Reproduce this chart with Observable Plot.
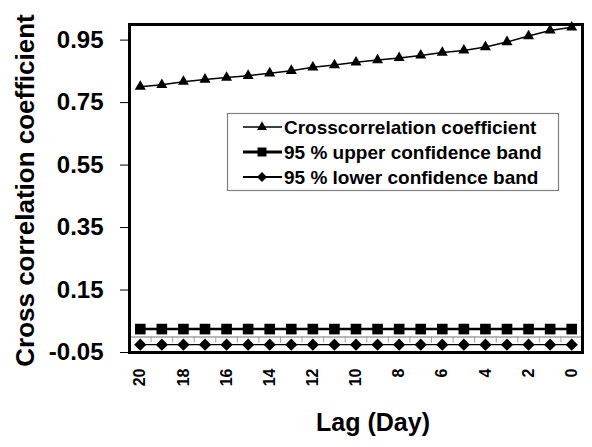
<!DOCTYPE html>
<html>
<head>
<meta charset="utf-8">
<script src="https://cdn.jsdelivr.net/npm/d3@7"></script>
<script src="https://cdn.jsdelivr.net/npm/@observablehq/plot@0.6"></script>
<style>
  html, body { margin: 0; padding: 0; background: white; }
  #wrap { position: relative; width: 592px; height: 447px; }
  #wrap svg text { font-weight: bold; }
</style>
</head>
<body>
<div id="wrap"></div>
<script>
const lags = [20, 19, 18, 17, 16, 15, 14, 13, 12, 11, 10, 9, 8, 7, 6, 5, 4, 3, 2, 1, 0];
const ccValues = [0.801, 0.807, 0.817, 0.824, 0.830, 0.836, 0.844, 0.852, 0.863, 0.870, 0.879,
                  0.886, 0.893, 0.901, 0.910, 0.917, 0.928, 0.944, 0.963, 0.981, 0.991];
const upperBand = [0.025, 0.025, 0.025, 0.025, 0.025, 0.025, 0.025, 0.025, 0.025, 0.025, 0.025,
                   0.025, 0.025, 0.025, 0.025, 0.025, 0.025, 0.025, 0.025, 0.025, 0.025];
const lowerBand = [-0.025, -0.025, -0.025, -0.025, -0.025, -0.025, -0.025, -0.025, -0.025, -0.025, -0.025,
                   -0.025, -0.025, -0.025, -0.025, -0.025, -0.025, -0.025, -0.025, -0.025, -0.025];
const xTickLabels = [20, 18, 16, 14, 12, 10, 8, 6, 4, 2, 0];
const yTickLabels = [0.95, 0.75, 0.55, 0.35, 0.15, -0.05];
const seriesNames = ["Crosscorrelation coefficient", "95 % upper confidence band", "95 % lower confidence band"];
const xTitle = "Lag (Day)";
const yTitle = "Cross correlation coefficient";

const rows = lags.map((lag, i) => ({lag, cc: ccValues[i], upper: upperBand[i], lower: lowerBand[i]}));
// category boundaries for the Excel-style category tick marks on the zero line
const boundaries = lags.map(l => l + 0.5).concat([lags[lags.length - 1] - 0.5]);

const FONT = "'Liberation Sans', Arial, Helvetica, sans-serif";

const chart = Plot.plot({
  width: 592,
  height: 447,
  marginLeft: 129,
  marginRight: 10,
  marginTop: 24,
  marginBottom: 95,
  style: {fontFamily: FONT, background: "white", color: "black", overflow: "visible"},
  x: {type: "linear", domain: [d3.max(lags) + 0.5, d3.min(lags) - 0.5]},
  y: {domain: [-0.05, 1.0]},
  marks: [
    Plot.ruleY([0], {stroke: "#a0a0a0", strokeWidth: 1.5}),
    Plot.ruleX(boundaries, {x: d => d, y1: 0, y2: -0.02, stroke: "#a0a0a0", strokeWidth: 1}),
    Plot.line(rows, {x: "lag", y: "upper", stroke: "black", strokeWidth: 2.5}),
    Plot.dot(rows, {x: "lag", y: "upper", symbol: "square", r: 6, fill: "black", stroke: "none"}),
    Plot.line(rows, {x: "lag", y: "lower", stroke: "black", strokeWidth: 1.2}),
    Plot.dot(rows, {x: "lag", y: "lower", symbol: "diamond2", r: 5.5, fill: "black", stroke: "none"}),
    Plot.line(rows, {x: "lag", y: "cc", stroke: "black", strokeWidth: 1.5}),
    Plot.dot(rows, {x: "lag", y: "cc", symbol: "triangle", r: 4.1, fill: "black", stroke: "none"}),
    Plot.axisY({ticks: yTickLabels, tickFormat: d => d.toFixed(2), tickSize: 9, tickPadding: 17,
                fontSize: 24, fontWeight: "bold", label: null, stroke: "black"}),
    Plot.axisX({ticks: xTickLabels, tickFormat: d => String(d), tickSize: 0, tickRotate: -90,
                tickPadding: 16, fontSize: 16, fontWeight: "bold", label: null}),
    Plot.frame({stroke: "black", strokeWidth: 3}),
    Plot.text([yTitle], {text: d => d, frameAnchor: "left", textAnchor: "middle", rotate: -90, dx: -104, dy: 2,
                         fontSize: 26, fontWeight: "bold", fill: "black"}),
    Plot.text([xTitle], {text: d => d, frameAnchor: "bottom", dx: 17, dy: 78,
                         fontSize: 25, fontWeight: "bold", fill: "black"})
  ]
});

const wrap = document.getElementById("wrap");
wrap.appendChild(chart);

// Legend overlay (inside plot area, as in the reference)
const leg = d3.create("svg")
  .attr("width", 592).attr("height", 447)
  .style("position", "absolute").style("left", "0px").style("top", "0px")
  .style("font-family", FONT);

leg.append("rect")
  .attr("x", 227.5).attr("y", 113.5).attr("width", 331).attr("height", 77)
  .attr("fill", "white").attr("stroke", "#808080").attr("stroke-width", 1.2);

const legSymbols = [d3.symbolTriangle, d3.symbolSquare, d3.symbolDiamond2];
const legSizes = [43, 81, 64];
const legWidths = [1.5, 2.8, 2.2];
seriesNames.forEach((name, i) => {
  const y = 127 + 25 * i;
  leg.append("line").attr("x1", 243).attr("x2", 282).attr("y1", y).attr("y2", y)
    .attr("stroke", "black").attr("stroke-width", legWidths[i]);
  leg.append("path").attr("d", d3.symbol(legSymbols[i], legSizes[i])())
    .attr("transform", `translate(262,${y})`).attr("fill", "black");
  leg.append("text").attr("x", 284).attr("y", y).attr("dy", "0.35em")
    .attr("font-size", 19).attr("font-weight", "bold").attr("fill", "black").text(name);
});
wrap.appendChild(leg.node());
</script>
</body>
</html>
